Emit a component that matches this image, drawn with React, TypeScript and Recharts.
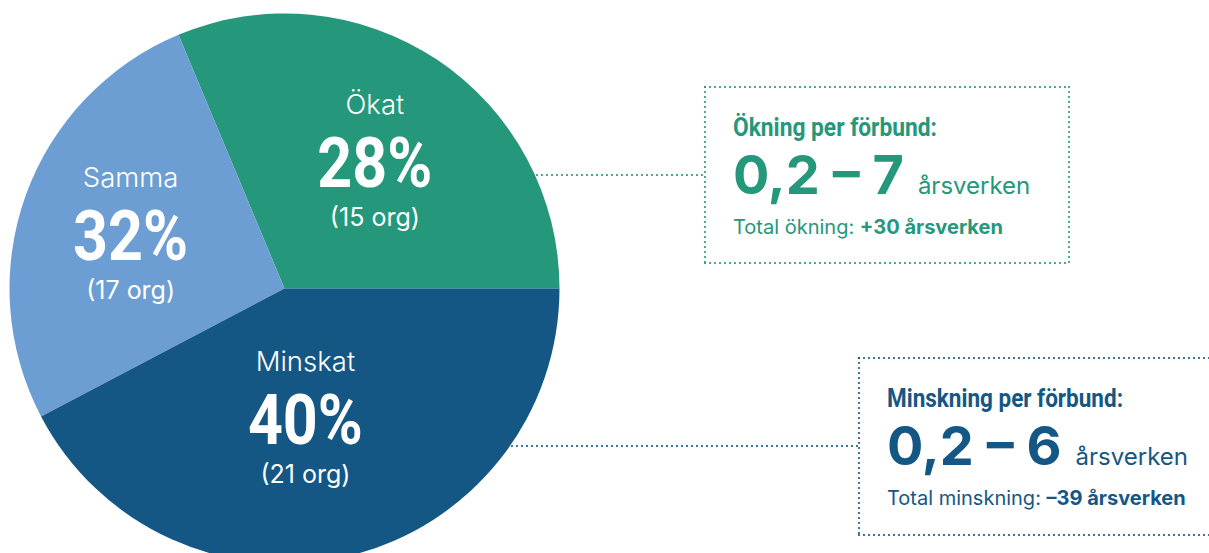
import React from 'react';
import { PieChart, Pie, Cell } from 'recharts';

const categories = ['Ökat', 'Samma', 'Minskat'];
const sliceShares = [31.3, 26.4, 42.3];
const percentLabels = ['28%', '32%', '40%'];
const orgCounts = [15, 17, 21];
const sliceColors = ['#25977A', '#6C9ED3', '#145785'];

// side boxes
const increaseHeading = 'Ökning per förbund:';
const increaseRange = ['0,2', '7'];
const increaseTotalLabel = 'Total ökning:';
const increaseTotal = '+30';
const decreaseHeading = 'Minskning per förbund:';
const decreaseRange = ['0,2', '6'];
const decreaseTotalLabel = 'Total minskning:';
const decreaseTotal = '–39';
const unit = 'årsverken';

const pieData = categories.map((name, i) => ({ name, value: sliceShares[i] }));

const RADIAN = Math.PI / 180;
const labelNudge = [
  { dx: 5, dy: 3 },
  { dx: -9, dy: 0 },
  { dx: -16, dy: -18 },
];

// no condensed face is installed, so condensed text is squeezed with textLength
const condensed = 'Roboto, "Noto Sans", sans-serif';
const sans = 'Inter, "Noto Sans", sans-serif';

const renderSliceLabel = (props: any) => {
  const { cx, cy, midAngle, outerRadius } = props;
  const index = props.index ?? categories.indexOf(props.name);
  const r = outerRadius * 0.56;
  const x = cx + r * Math.cos(-midAngle * RADIAN) + labelNudge[index].dx;
  const y = cy + r * Math.sin(-midAngle * RADIAN) + labelNudge[index].dy;
  return (
    <g>
      <text x={x} y={y - 49} textAnchor="middle" fill="#fff" fontFamily={sans} fontWeight={300} fontSize={27.5}>
        {categories[index]}
      </text>
      <text
        x={x}
        y={y + 24}
        textAnchor="middle"
        fill="#fff"
        fontFamily={condensed}
        fontWeight={700}
        fontSize={70}
        textLength={115}
        lengthAdjust="spacingAndGlyphs"
      >
        {percentLabels[index]}
      </text>
      <text x={x} y={y + 63} textAnchor="middle" fill="#fff" fontFamily={sans} fontWeight={400} fontSize={25}>
        ({orgCounts[index]} org)
      </text>
    </g>
  );
};

const Dots = ({ x1, y1, x2, y2, color }: { x1: number; y1: number; x2: number; y2: number; color: string }) => (
  <line x1={x1} y1={y1} x2={x2} y2={y2} stroke={color} strokeWidth={2.2} strokeDasharray="0 5" strokeLinecap="round" />
);

const InfoBox = ({
  x,
  y,
  color,
  heading,
  headingWidth,
  range,
  totalLabel,
  total,
}: {
  x: number;
  y: number;
  color: string;
  heading: string;
  headingWidth: number;
  range: string[];
  totalLabel: string;
  total: string;
}) => (
  <g fill={color}>
    <text
      x={x}
      y={y}
      fontFamily={condensed}
      fontWeight={700}
      fontSize={26}
      textLength={headingWidth}
      lengthAdjust="spacingAndGlyphs"
    >
      {heading}
    </text>
    <text x={x} y={y + 58} fontFamily={sans} fontWeight={700} fontSize={54}>
      {range[0]} – {range[1]}
      <tspan dx={14} fontSize={24} fontWeight={400}>
        {unit}
      </tspan>
    </text>
    <text x={x} y={y + 98} fontFamily={sans} fontWeight={400} fontSize={20}>
      {totalLabel}{' '}
      <tspan fontWeight={700}>
        {total} {unit}
      </tspan>
    </text>
  </g>
);

export default function App() {
  const green = sliceColors[0];
  const blue = sliceColors[2];
  return (
    <div style={{ position: 'absolute', left: 0, top: 0, width: 1209, height: 553, background: '#fff', overflow: 'hidden' }}>
      <PieChart width={1209} height={553} margin={{ top: 0, right: 0, bottom: 0, left: 0 }}>
        <Pie
          data={pieData}
          dataKey="value"
          nameKey="name"
          cx={284.5}
          cy={288.5}
          innerRadius={0}
          outerRadius={275}
          startAngle={0}
          endAngle={360}
          stroke="none"
          label={renderSliceLabel}
          labelLine={false}
          isAnimationActive={false}
        >
          {pieData.map((entry, i) => (
            <Cell key={entry.name} fill={sliceColors[i]} stroke="none" />
          ))}
        </Pie>
      </PieChart>
      <svg width={1209} height={553} style={{ position: 'absolute', left: 0, top: 0, pointerEvents: 'none' }}>
        {/* increase box */}
        <Dots x1={537} y1={175} x2={705} y2={175} color={green} />
        <Dots x1={705} y1={87} x2={1069} y2={87} color={green} />
        <Dots x1={705} y1={263} x2={1069} y2={263} color={green} />
        <Dots x1={705} y1={87} x2={705} y2={263} color={green} />
        <Dots x1={1069} y1={87} x2={1069} y2={263} color={green} />
        <InfoBox
          x={733}
          y={136}
          color={green}
          heading={increaseHeading}
          headingWidth={204}
          range={increaseRange}
          totalLabel={increaseTotalLabel}
          total={increaseTotal}
        />
        {/* decrease box */}
        <Dots x1={512} y1={446} x2={859} y2={446} color={blue} />
        <Dots x1={859} y1={358} x2={1215} y2={358} color={blue} />
        <Dots x1={859} y1={535} x2={1215} y2={535} color={blue} />
        <Dots x1={859} y1={358} x2={859} y2={535} color={blue} />
        <InfoBox
          x={887}
          y={407}
          color={blue}
          heading={decreaseHeading}
          headingWidth={236}
          range={decreaseRange}
          totalLabel={decreaseTotalLabel}
          total={decreaseTotal}
        />
      </svg>
    </div>
  );
}
